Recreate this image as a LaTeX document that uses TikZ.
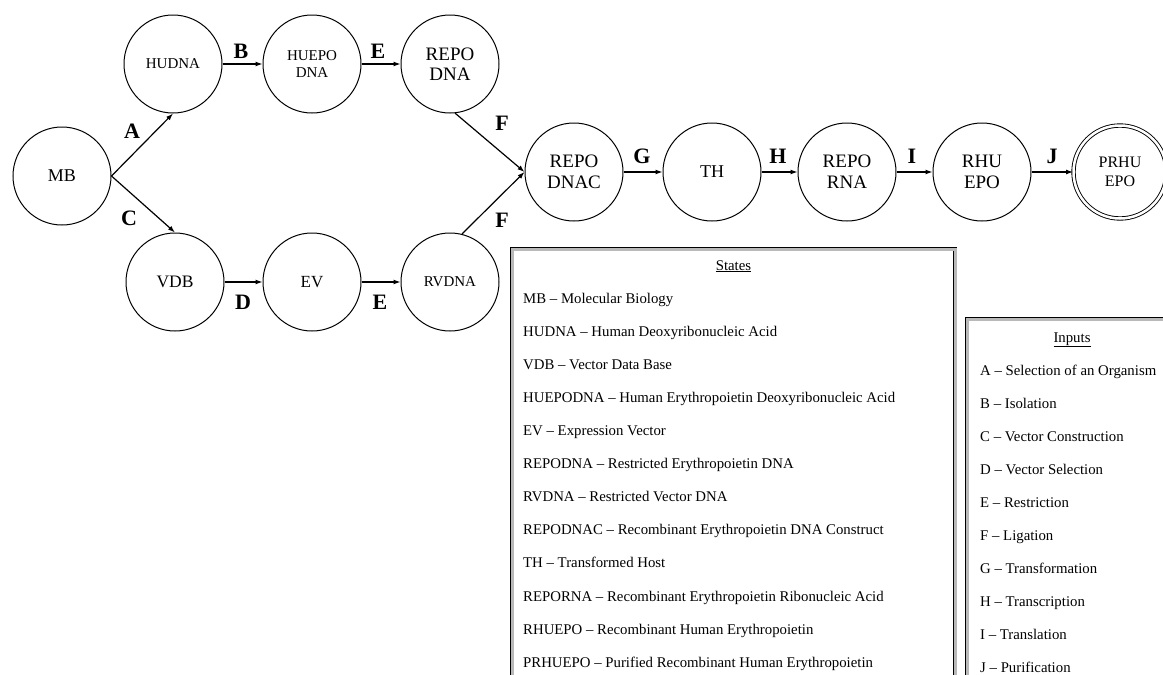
\documentclass[tikz,border=0pt]{standalone}
\usepackage{fontspec}
\setmainfont{Liberation Serif}
\usetikzlibrary{arrows.meta}
\def\fsz#1#2{\fontsize{#1}{#2}\selectfont}
\begin{document}
\begin{tikzpicture}[x=1pt,y=-1pt,
 state/.style={circle,draw,line width=1pt,minimum size=98pt,inner sep=0pt,align=center},
 accept/.style={state,double,double distance=2.5pt,line width=0.9pt,minimum size=93pt},
 arr/.style={-{Latex[length=7pt,width=5pt]},line width=1.2pt},
 lbl/.style={font=\fsz{22}{24}\bfseries,inner sep=0pt},
 legend/.style={draw=black,line width=0.8pt,double=gray!55,double distance=3pt},
 ltext/.style={anchor=base west,inner sep=0pt,font=\fsz{14.8}{16}},
 ltitle/.style={anchor=base,inner sep=0pt,font=\fsz{14.8}{16}}
]
\clip (0,0) rectangle (1163,675);
\fill[white] (0,0) rectangle (1163,675);

% states
\node[state,font=\fsz{18}{20}] (MB) at (62,176) {MB};
\node[state,font=\fsz{15}{17}] (HUDNA) at (173,64) {HUDNA};
\node[state,font=\fsz{15}{17}] (HUEPO) at (312,64) {HUEPO\\DNA};
\node[state,font=\fsz{19}{20}] (REPODNA) at (450,64) {REPO\\DNA};
\node[state,font=\fsz{17.5}{19}] (VDB) at (175,282) {VDB};
\node[state,font=\fsz{17}{19}] (EV) at (312,282) {EV};
\node[state,font=\fsz{15}{17}] (RVDNA) at (450,282) {RVDNA};
\node[state,font=\fsz{19}{21}] (REPODNAC) at (574,172) {REPO\\DNAC};
\node[state,font=\fsz{18}{20}] (TH) at (712,172) {TH};
\node[state,font=\fsz{19}{21}] (REPORNA) at (847,172) {REPO\\RNA};
\node[state,font=\fsz{19}{21}] (RHUEPO) at (982,172) {RHU\\EPO};
\node[accept,font=\fsz{16}{19}] (PRHUEPO) at (1120,172) {PRHU\\EPO};

% transitions
\draw[arr] (MB.east) -- (HUDNA.south);
\draw[arr] (MB.east) -- (VDB.north);
\draw[arr] (HUDNA.east) -- (HUEPO.west);
\draw[arr] (HUEPO.east) -- (REPODNA.west);
\draw[arr] (VDB.east) -- (EV.west);
\draw[arr] (EV.east) -- (RVDNA.west);
\draw[arr] (REPODNA.-84) -- (REPODNAC.west);
\draw[arr] (RVDNA.76) -- (REPODNAC.west);
\draw[arr] (REPODNAC.east) -- (TH.west);
\draw[arr] (TH.east) -- (REPORNA.west);
\draw[arr] (REPORNA.east) -- (RHUEPO.west);
\draw[arr] (RHUEPO.east) -- (PRHUEPO.west);

% labels
\node[lbl] (lA) at (132,131) {A};
\node[lbl] (lC) at (129,218) {C};
\node[lbl] (lB) at (241,51) {B};
\node[lbl] (lE1) at (378,51) {E};
\node[lbl] (lD) at (243,302) {D};
\node[lbl] (lE2) at (380,302) {E};
\node[lbl] (lF1) at (502,123) {F};
\node[lbl] (lF2) at (502,220) {F};
\node[lbl] (lG) at (642,156) {G};
\node[lbl] (lH) at (778,156) {H};
\node[lbl] (lI) at (912,156) {I};
\node[lbl] (lJ) at (1052,156) {J};

% legends
\draw[legend] (512,249) rectangle (955,720);
\draw[legend] (967,319) rectangle (1220,720);

\node[ltitle] (st) at (733.5,270) {\underline{States}};
\node[ltext] (s1) at (523,303) {MB – Molecular Biology};
\node[ltext] (s2) at (523,336) {HUDNA – Human Deoxyribonucleic Acid};
\node[ltext] (s3) at (523,369) {VDB – Vector Data Base};
\node[ltext] (s4) at (523,402) {HUEPODNA – Human Erythropoietin Deoxyribonucleic Acid};
\node[ltext] (s5) at (523,435.5) {EV – Expression Vector};
\node[ltext] (s6) at (523,468.5) {REPODNA – Restricted Erythropoietin DNA};
\node[ltext] (s7) at (523,501.6) {RVDNA – Restricted Vector DNA};
\node[ltext] (s8) at (523,534.7) {REPODNAC – Recombinant Erythropoietin DNA Construct};
\node[ltext] (s9) at (523,567.8) {TH – Transformed Host};
\node[ltext] (s10) at (523,601) {REPORNA – Recombinant Erythropoietin Ribonucleic Acid};
\node[ltext] (s11) at (523,634) {RHUEPO – Recombinant Human Erythropoietin};
\node[ltext] (s12) at (523,667) {PRHUEPO – Purified Recombinant Human Erythropoietin};

\node[ltitle] (it) at (1072,342) {\underline{Inputs}};
\node[ltext] (i1) at (980,375) {A – Selection of an Organism};
\node[ltext] (i2) at (980,408) {B – Isolation};
\node[ltext] (i3) at (980,441) {C – Vector Construction};
\node[ltext] (i4) at (980,474) {D – Vector Selection};
\node[ltext] (i5) at (980,507) {E – Restriction};
\node[ltext] (i6) at (980,540) {F – Ligation};
\node[ltext] (i7) at (980,573) {G – Transformation};
\node[ltext] (i8) at (980,606) {H – Transcription};
\node[ltext] (i9) at (980,639) {I – Translation};
\node[ltext] (i10) at (980,672) {J – Purification};
\end{tikzpicture}
\end{document}
